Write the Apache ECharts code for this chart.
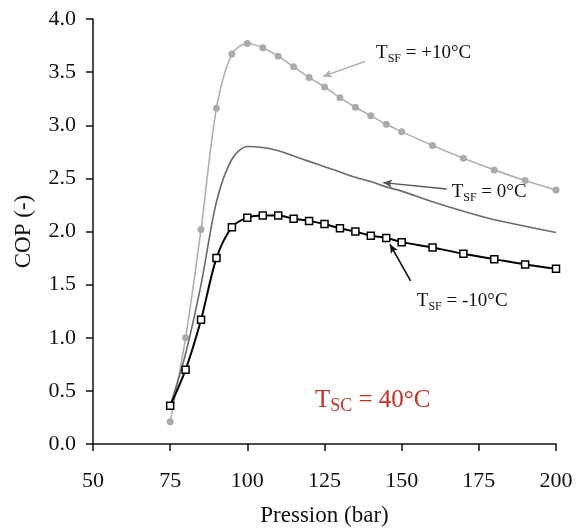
<!DOCTYPE html>
<html>
<head>
<meta charset="utf-8">
<script src="https://cdn.jsdelivr.net/npm/echarts@6/dist/echarts.min.js"></script>
<style>
html,body{margin:0;padding:0;background:#fff;}
#main{width:578px;height:532px;}
</style>
</head>
<body>
<div id="main"></div>
<script>
// Data
var pressure = [75, 80, 85, 90, 95, 100, 105, 110, 115, 120, 125, 130, 135, 140, 145, 150, 160, 170, 180, 190, 200];
var copPlus10 = [0.21, 1.00, 2.02, 3.16, 3.67, 3.77, 3.73, 3.65, 3.55, 3.45, 3.36, 3.26, 3.17, 3.09, 3.01, 2.94, 2.81, 2.69, 2.58, 2.48, 2.39];
var copZero = [0.36, 0.85, 1.50, 2.28, 2.68, 2.80, 2.79, 2.76, 2.71, 2.66, 2.61, 2.56, 2.51, 2.47, 2.42, 2.38, 2.28, 2.19, 2.11, 2.05, 1.99];
var copMinus10 = [0.36, 0.70, 1.17, 1.75, 2.04, 2.13, 2.15, 2.15, 2.12, 2.10, 2.07, 2.03, 2.00, 1.96, 1.94, 1.90, 1.85, 1.79, 1.74, 1.69, 1.65];
var xTicks = [50, 75, 100, 125, 150, 175, 200];
var yTicks = [0, 0.5, 1, 1.5, 2, 2.5, 3, 3.5, 4];

// Annotations (data coordinates)
var arrowPlus10 = [[138.1, 3.60], [124.5, 3.46]];
var arrowZero = [[164.6, 2.40], [144.0, 2.46]];
var arrowMinus10 = [[152.9, 1.535], [146.2, 1.88]];
var labelPlus10 = [141.7, 3.68];
var labelZero = [166.2, 2.37];
var labelMinus10 = [154.9, 1.35];
var labelTsc = [121.9, 0.41];

function pairs(xs, ys) { return xs.map(function (x, i) { return [x, ys[i]]; }); }

var FONT = '"Liberation Serif", "DejaVu Serif", serif';

var chart = echarts.init(document.getElementById('main'), null, {renderer: 'canvas'});

function arrowLine(pts) {
  return [
    {coord: pts[0], symbol: 'none'},
    {coord: pts[1], symbol: 'arrow', symbolSize: [6, 9]}
  ];
}

var option = {
  animation: false,
  backgroundColor: '#fff',
  grid: {left: 93, right: 22, top: 19, bottom: 87, containLabel: false},
  xAxis: {
    type: 'value', min: xTicks[0], max: xTicks[xTicks.length - 1], interval: 25,
    name: 'Pression (bar)', nameLocation: 'middle', nameGap: 60,
    nameTextStyle: {fontFamily: FONT, fontSize: 23, color: '#111'},
    axisLine: {show: true, lineStyle: {color: '#111', width: 1.5}},
    axisTick: {show: true, inside: false, length: 7, lineStyle: {color: '#111', width: 1.5}},
    axisLabel: {fontFamily: FONT, fontSize: 22, color: '#111', margin: 26},
    splitLine: {show: false}
  },
  yAxis: {
    type: 'value', min: yTicks[0], max: yTicks[yTicks.length - 1], interval: 0.5,
    name: 'COP (-)', nameLocation: 'middle', nameGap: 58, nameRotate: 90,
    nameTextStyle: {fontFamily: FONT, fontSize: 23, color: '#111'},
    axisLine: {show: true, lineStyle: {color: '#111', width: 1.5}},
    axisTick: {show: true, inside: false, length: 7, lineStyle: {color: '#111', width: 1.5}},
    axisLabel: {fontFamily: FONT, fontSize: 22, color: '#111', margin: 17,
      formatter: function (v) { return v.toFixed(1); }},
    splitLine: {show: false}
  },
  series: [
    {
      name: '+10', type: 'line', data: pairs(pressure, copPlus10), smooth: 0.3,
      symbol: 'circle', symbolSize: 7,
      lineStyle: {color: '#b0b0b0', width: 1.6},
      itemStyle: {color: '#ababab', borderWidth: 0},
      z: 2,
      markLine: {
        silent: true, animation: false, label: {show: false},
        lineStyle: {color: '#b0b0b0', width: 1.5, type: 'solid'},
        data: [arrowLine(arrowPlus10)]
      }
    },
    {
      name: '0', type: 'line', data: pairs(pressure, copZero), smooth: 0.3,
      symbol: 'none', showSymbol: false,
      lineStyle: {color: '#6a6a6a', width: 1.6},
      z: 3,
      markLine: {
        silent: true, animation: false, label: {show: false},
        lineStyle: {color: '#555', width: 1.5, type: 'solid'},
        data: [arrowLine(arrowZero)]
      }
    },
    {
      name: '-10', type: 'line', data: pairs(pressure, copMinus10), smooth: 0.3,
      symbol: 'rect', symbolSize: 7,
      lineStyle: {color: '#000', width: 2},
      itemStyle: {color: '#fff', borderColor: '#000', borderWidth: 1.5},
      z: 4,
      markLine: {
        silent: true, animation: false, label: {show: false},
        lineStyle: {color: '#111', width: 1.6, type: 'solid'},
        data: [arrowLine(arrowMinus10)]
      }
    }
  ]
};
chart.setOption(option);

function tsfText(suffix) {
  return '{t|T}{s|SF}{n|' + suffix + '}';
}
var richSF = {
  t: {fontFamily: FONT, fontSize: 19, fill: '#111', lineHeight: 24},
  s: {fontFamily: FONT, fontSize: 12, fill: '#111', lineHeight: 12, verticalAlign: 'bottom'},
  n: {fontFamily: FONT, fontSize: 19, fill: '#111', lineHeight: 24}
};
var RED = '#d42a20';
var richSC = {
  t: {fontFamily: FONT, fontSize: 25, fill: RED, lineHeight: 30},
  s: {fontFamily: FONT, fontSize: 18, fill: RED, lineHeight: 16, verticalAlign: 'bottom'},
  n: {fontFamily: FONT, fontSize: 25, fill: RED, lineHeight: 30}
};
function txt(coord, text, rich) {
  var p = chart.convertToPixel({gridIndex: 0}, coord);
  return {
    type: 'text', x: p[0], y: p[1], z: 10,
    style: {text: text, rich: rich, align: 'left', verticalAlign: 'middle'}
  };
}
chart.setOption({
  graphic: [
    txt(labelPlus10, tsfText(' = +10°C'), richSF),
    txt(labelZero, tsfText(' = 0°C'), richSF),
    txt(labelMinus10, tsfText(' = -10°C'), richSF),
    txt(labelTsc, '{t|T}{s|SC}{n| = 40°C}', richSC)
  ]
});
</script>
</body>
</html>
